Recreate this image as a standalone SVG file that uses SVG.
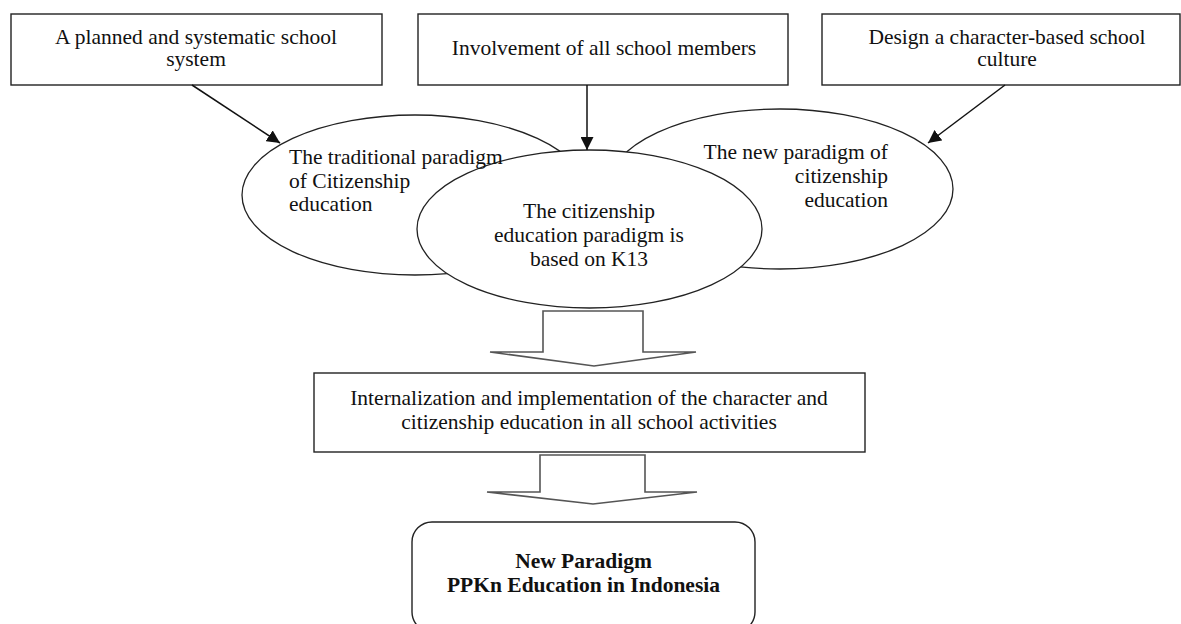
<svg xmlns="http://www.w3.org/2000/svg" width="1181" height="624" viewBox="0 0 1181 624">
<style>
.box{fill:#fff;stroke:#222;stroke-width:1.4}
.ell{fill:#fff;stroke:#222;stroke-width:1.3}
.blk{fill:#fff;stroke:#555;stroke-width:1.6;stroke-linejoin:miter}
.t{font-family:"Liberation Serif","Times New Roman",serif;font-size:21.5px;fill:#111}
.c{text-anchor:middle}
.r{text-anchor:end}
.b{font-weight:bold}
.ln{stroke:#111;stroke-width:1.5;fill:none}
</style>
<defs>
<marker id="ah2" viewBox="0 0 10 10" refX="10" refY="5" markerWidth="13" markerHeight="13" markerUnits="userSpaceOnUse" orient="auto">
<path d="M0,0 L10,5 L0,10 z" fill="#111"/>
</marker>
</defs>

<g id="box-planned">
<rect class="box" x="11" y="14" width="371" height="71"/>
<text class="t c" x="196" y="44">A planned and systematic school</text>
<text class="t c" x="196" y="66">system</text>
</g>
<g id="box-involvement">
<rect class="box" x="418" y="14" width="370" height="71"/>
<text class="t c" x="604" y="55">Involvement of all school members</text>
</g>
<g id="box-design">
<rect class="box" x="822" y="14" width="358" height="71"/>
<text class="t c" x="1007" y="44">Design a character-based school</text>
<text class="t c" x="1007" y="66">culture</text>
</g>

<g id="ellipse-traditional">
<ellipse class="ell" cx="415" cy="195" rx="173" ry="80"/>
</g>
<g id="ellipse-new">
<ellipse class="ell" cx="780" cy="189" rx="173" ry="80"/>
</g>
<g id="ellipse-k13">
<ellipse class="ell" cx="589.5" cy="229" rx="172.5" ry="79"/>
</g>
<g id="ellipse-texts">
<text class="t" x="289" y="164">The traditional paradigm</text>
<text class="t" x="289" y="188">of Citizenship</text>
<text class="t" x="289" y="211">education</text>
<text class="t r" x="888" y="159">The new paradigm of</text>
<text class="t r" x="888" y="183">citizenship</text>
<text class="t r" x="888" y="207">education</text>
<text class="t c" x="589" y="218">The citizenship</text>
<text class="t c" x="589" y="242">education paradigm is</text>
<text class="t c" x="589" y="266">based on K13</text>
</g>

<g id="connectors">
<line class="ln" x1="192" y1="85" x2="280" y2="143" marker-end="url(#ah2)"/>
<line class="ln" x1="587" y1="85" x2="587" y2="150" marker-end="url(#ah2)"/>
<line class="ln" x1="1005" y1="85" x2="928" y2="143" marker-end="url(#ah2)"/>
<polygon class="blk" points="543,311 643,311 643,352 696,352 594,366 490,352 543,352"/>
<polygon class="blk" points="540,455 645,455 645,492 697,492 593,504 487,492 540,492"/>
</g>

<g id="box-internalization">
<rect class="box" x="314" y="373" width="551" height="79"/>
<text class="t c" x="589" y="405">Internalization and implementation of the character and</text>
<text class="t c" x="589" y="429">citizenship education in all school activities</text>
</g>

<g id="box-newparadigm">
<rect class="box" x="412" y="522" width="343" height="110" rx="20" ry="20"/>
<text class="t c b" x="583.5" y="568">New Paradigm</text>
<text class="t c b" x="583.5" y="592">PPKn Education in Indonesia</text>
</g>
</svg>
